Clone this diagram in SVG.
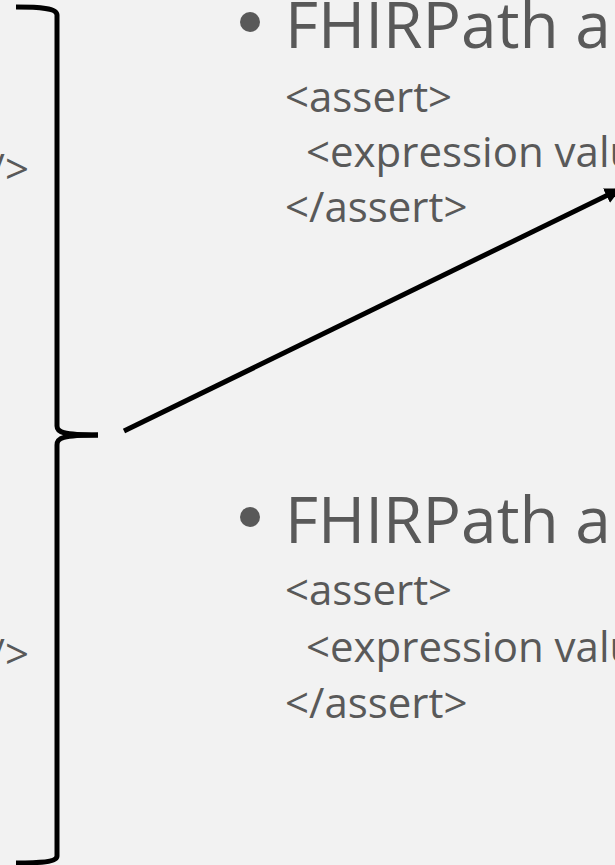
<svg xmlns="http://www.w3.org/2000/svg" width="615" height="865" viewBox="0 0 615 865">
  <style>
    .title { font-family: "Open Sans", "Noto Sans", sans-serif; font-size: 64px; fill: #595959; }
    .code { font-family: "Open Sans", "Noto Sans", sans-serif; font-size: 42px; fill: #595959; }
    .bullet { fill: #595959; }
    .brace { fill: none; stroke: #000; stroke-width: 5; stroke-linecap: butt; }
    .conn { fill: none; stroke: #000; stroke-width: 5; }
  </style>
  <defs>
    <marker id="arrow" viewBox="0 0 10 10" refX="8" refY="5" markerWidth="3.2" markerHeight="3.2" orient="auto" markerUnits="strokeWidth">
      <path d="M0,0 L10,5 L0,10 z" fill="#000"/>
    </marker>
  </defs>

  <rect x="0" y="0" width="615" height="865" fill="#f2f2f2"/>

  <!-- clipped fragments of the left-hand code column -->
  <g id="left-code">
    <text class="code" x="29" y="184" text-anchor="end">/&gt;</text>
    <text class="code" x="29" y="669" text-anchor="end">/&gt;</text>
  </g>

  <!-- grouping brace -->
  <g id="brace">
    <path class="brace" d="M16,7 C40,7 57,8 57,15 L57,426 C57,432 62,435 98,435"/>
    <path class="brace" d="M98,435 C62,435 57,438 57,445 L57,856 C57,862 40,863 16,863"/>
  </g>

  <!-- upper FHIRPath block -->
  <g id="block-top">
    <circle class="bullet" cx="250" cy="22" r="10"/>
    <text class="title" x="285" y="48">FHIRPath a</text>
    <text class="code" x="285" y="112">&lt;assert&gt;</text>
    <text class="code" x="306" y="167">&lt;expression valu</text>
    <text class="code" x="285" y="222">&lt;/assert&gt;</text>
  </g>

  <!-- lower FHIRPath block -->
  <g id="block-bottom">
    <circle class="bullet" cx="250" cy="517" r="10"/>
    <text class="title" x="285" y="543">FHIRPath a</text>
    <text class="code" x="285" y="605">&lt;assert&gt;</text>
    <text class="code" x="306" y="662">&lt;expression valu</text>
    <text class="code" x="285" y="718">&lt;/assert&gt;</text>
  </g>

  <g id="connectors">
    <line class="conn" x1="124" y1="431" x2="618" y2="190" marker-end="url(#arrow)"/>
  </g>
</svg>
